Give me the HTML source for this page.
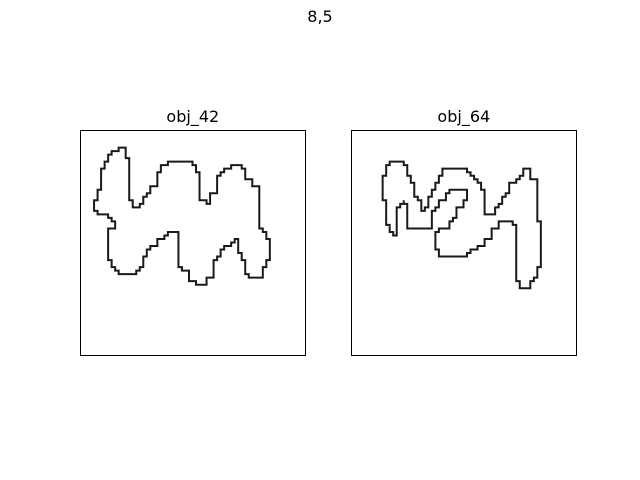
<!DOCTYPE html>
<html>
<head>
<meta charset="utf-8">
<title>8,5</title>
<style>
html,body{margin:0;padding:0;background:#fff;width:640px;height:480px;overflow:hidden}
svg{display:block}
text{font-family:"DejaVu Sans","Liberation Sans",sans-serif;fill:#000;font-size:16px}
</style>
</head>
<body>
<svg id="chart" width="640" height="480" viewBox="0 0 640 480" xmlns="http://www.w3.org/2000/svg">
<rect x="0" y="0" width="640" height="480" fill="#fff"/>
<text x="320" y="22" text-anchor="middle">8,5</text>
<text x="192.8" y="122" text-anchor="middle">obj_42</text>
<text x="463.8" y="122" text-anchor="middle">obj_64</text>
<rect x="80.5" y="130.5" width="225" height="225" fill="none" stroke="#000" stroke-width="1"/>
<rect x="351.5" y="130.5" width="225" height="225" fill="none" stroke="#000" stroke-width="1"/>
<g id="marks"></g>
</svg>
<script>
const traceSpan = 70;
const pixelCells = 64;
const obj42Cols = [12.4,13.7,13.7,14.5,14.5,15.1,15.1,16.6,16.6,17.2,18.7,19.3,20,21.3,21.8,22.3,23.7,24.3,24.9,26.1,26.8,34.75,35,35.8,37.3,37.65,39.7,40.4,41.8,42.5,43,44.9,45.1,47.2,49.1,50.8,51.5,51.9,53.4,53.9,55.3,55.3,55.7,57.6,57.8,59.4,59.4,58.1,57.4,57.4,53.6,53.4,51.9,51.1,50.8,49.8,49.5,48.75,48.4,46.7,44.9,44.1,42.5,41.8,41.5,41,39.9,39.7,36,35.8,33.5,33.5,32.7,31.1,30.9,28,26.8,26.4,24.7,23.6,23.6,22.8,21.3,21.3,20.2,19.2,19.2,18.5,18.5,17.4,17.4,12.65,12.65,10.9,10.9,9.85,9.85,8.8,8.8,10.4,10.4,9.3,8.3,8.1,5.7,4.5,4.5,5.7,5.7,6.6,6.6,7.8,7.8,8.8,8.8,10,11.9,11.9,12.4];
const obj42Rows = [5.4,5.4,6.7,6.7,8.8,8.8,22.1,22.3,23.7,24.6,24.1,22.3,20.4,20.2,19.2,17.6,17.1,14.5,11.9,10.9,9.85,9.85,10.9,11.9,13.3,21.6,22.6,20.2,19.7,17.6,14,13.3,11.9,11.1,11.4,11.6,13.3,15.6,16.1,17.1,17.4,30.6,31.1,32.4,33.7,34.2,40,40.2,43.4,46.4,46.4,45.4,44.6,42.5,39.2,38.6,34.75,34.2,35.3,36.3,36.8,38.6,39.2,41.3,44.6,46.2,46.7,48.4,48.4,47.2,46.9,44.1,43.4,43,31.6,32,32.4,33.7,34,34.4,36.1,36.5,37.1,39.4,40.2,40.7,42.5,42.5,44.1,44.1,45.1,45.1,44.4,44.1,42.7,42.5,40.2,40.2,30.9,30.3,28,27.2,26.1,25.9,25.9,25.2,21.6,21.6,18.2,18.2,11.9,11.9,9.5,9.5,7.3,7,6.7,5.4,5.4];
const obj64Cols = [12.1,15.8,16.6,17.6,17.6,18.7,18.9,19.7,19.9,21,21.5,22.3,23,24.1,25.1,25.6,26.7,27.2,28.7,31.3,34.6,35.7,37,38.1,40.1,40.45,41.2,41.2,41.9,43.6,44.3,45.6,46.7,47.1,49,49.5,51,52.6,53.6,55.2,55.7,57.8,58.1,59.5,59.5,58.1,57.8,56.7,55.7,52.9,52.3,51,51,49,46.7,45.8,44,43.6,41.9,40.7,37.8,35.7,28,27.7,26.35,26.35,28.7,30.5,30.8,31.85,32.9,33.2,34.65,35.3,36,35.7,31.85,31.1,29.8,29.25,27.7,27.2,25.9,25.1,24.9,17.6,17.3,16.8,15.6,15.25,14.2,13.9,12.9,12.45,12.1,10.8,10.8,10.1,10.1,10.8,10.9,12.1];
const obj64Rows = [9.6,9.6,11.2,12.2,13.7,14.3,16.6,16.8,20.5,21.3,23.6,24.7,24.7,21.3,20.5,18.9,16.6,14.3,12.4,11.7,11.7,13.3,13.5,15.55,16.8,18.9,19.2,24.9,26.45,26.75,24.7,24.4,22.3,20.5,19.7,16.8,16.4,14.3,12.4,12.4,15,16.4,28.8,29.6,42.7,43.4,45.8,47.5,49.3,49.3,47.5,45.8,29,28.2,28,30.6,31.3,34,34.7,36.5,37.5,39.4,39.4,37.9,36.8,31.3,30.6,29.6,28,27.5,25.9,24,23.3,21.8,19.7,18.2,18.2,19.2,19.7,21.6,22,24,24.9,28.5,30.9,30.9,23.3,22.3,22.6,23.9,24.4,32.4,32.4,31.1,29.2,28.5,22.3,21.8,13.7,13.3,10.4,9.6];

function toCell(v) {
  return v * pixelCells / traceSpan;
}
function xAxis(left, cell) {
  return left + Math.round(cell) * 225 / pixelCells;
}
function yAxis(cell) {
  return 130 + Math.round(cell) * 225 / pixelCells;
}
function contourPath(left, cols, rows) {
  let d = 'M' + xAxis(left, toCell(cols[0])).toFixed(2) + ' ' + yAxis(toCell(rows[0])).toFixed(2);
  for (let i = 1; i < cols.length; i++) {
    const c0 = toCell(cols[i - 1]), r0 = toCell(rows[i - 1]);
    const c1 = toCell(cols[i]), r1 = toCell(rows[i]);
    const n = Math.max(1, Math.ceil(Math.max(Math.abs(c1 - c0), Math.abs(r1 - r0))));
    for (let k = 1; k <= n; k++) {
      const c = c0 + (c1 - c0) * k / n;
      const r = r0 + (r1 - r0) * k / n;
      d += 'H' + xAxis(left, c).toFixed(2) + 'V' + yAxis(r).toFixed(2);
    }
  }
  return d + 'Z';
}
const marks = document.getElementById('marks');
const leftContour = document.createElementNS('http://www.w3.org/2000/svg', 'path');


leftContour.setAttribute('d', contourPath(80, obj42Cols, obj42Rows));
leftContour.setAttribute('fill', 'none');
leftContour.setAttribute('stroke', '#1a1a1a');
leftContour.setAttribute('stroke-width', '2');
marks.appendChild(leftContour);
const rightContour = document.createElementNS('http://www.w3.org/2000/svg', 'path');


rightContour.setAttribute('d', contourPath(351, obj64Cols, obj64Rows));
rightContour.setAttribute('fill', 'none');
rightContour.setAttribute('stroke', '#1a1a1a');
rightContour.setAttribute('stroke-width', '2');
marks.appendChild(rightContour);
</script>
</body>
</html>
